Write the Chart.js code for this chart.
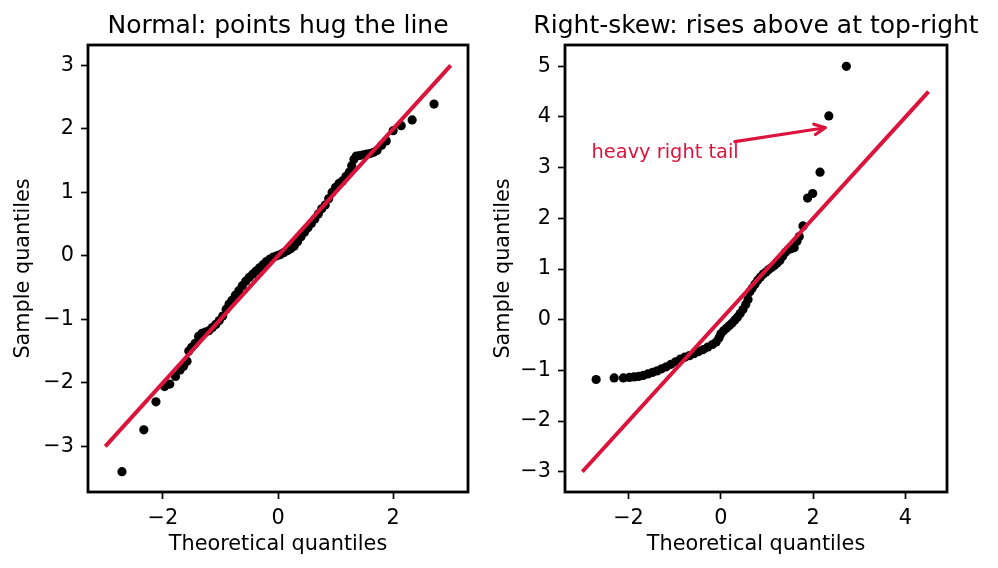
<!DOCTYPE html>
<html>
<head>
<meta charset="utf-8">
<title>Q-Q plots</title>
<script src="https://cdn.jsdelivr.net/npm/chart.js@4.4.1/dist/chart.umd.min.js"></script>
<style>
  html, body { margin: 0; padding: 0; background: #fff; overflow: hidden; }
  #wrap { position: relative; width: 998px; height: 568px; }
  canvas { position: absolute; top: 0; }
  #leftChart { left: 0; }
  #rightChart { left: 480px; }
</style>
</head>
<body>
<div id="wrap">
  <canvas id="leftChart" width="480" height="568"></canvas>
  <canvas id="rightChart" width="518" height="568"></canvas>
</div>
<script>
// ---- data ----
// left panel: normal sample
const normalTheo = [
  -2.71, -2.33, -2.12, -1.97, -1.88, -1.78, -1.70, -1.64, -1.58, -1.55,
  -1.50, -1.44, -1.38, -1.32, -1.26, -1.20, -1.14, -1.08, -1.02, -0.96,
  -0.90, -0.85, -0.80, -0.74, -0.68, -0.62, -0.56, -0.50, -0.44, -0.38,
  -0.32, -0.26, -0.20, -0.14, -0.08, -0.02, 0.04, 0.10, 0.16, 0.22,
  0.28, 0.34, 0.40, 0.46, 0.52, 0.58, 0.64, 0.70, 0.76, 0.82,
  0.88, 0.94, 1.00, 1.06, 1.12, 1.18, 1.24, 1.28, 1.32, 1.36,
  1.42, 1.48, 1.54, 1.60, 1.66, 1.72, 1.80, 1.88, 2.00, 2.14,
  2.33, 2.71
];
const normalSample = [
  -3.40, -2.74, -2.30, -2.06, -2.02, -1.90, -1.80, -1.74, -1.66, -1.50,
  -1.44, -1.38, -1.27, -1.22, -1.20, -1.18, -1.13, -1.08, -1.02, -0.95,
  -0.84, -0.76, -0.70, -0.62, -0.55, -0.47, -0.40, -0.34, -0.29, -0.24,
  -0.19, -0.14, -0.09, -0.05, -0.02, 0.00, 0.02, 0.05, 0.08, 0.11,
  0.15, 0.22, 0.30, 0.37, 0.44, 0.51, 0.58, 0.66, 0.74, 0.80,
  0.90, 1.00, 1.08, 1.14, 1.18, 1.25, 1.32, 1.42, 1.52, 1.57,
  1.58, 1.59, 1.60, 1.61, 1.63, 1.66, 1.74, 1.81, 1.97, 2.05,
  2.14, 2.39
];
const normalLineX = [-3, 3];
const normalLineY = [-3, 3];

// right panel: right-skewed sample
const skewTheo = [
  -2.70, -2.31, -2.11, -1.98, -1.88, -1.78, -1.68, -1.58, -1.48, -1.38,
  -1.28, -1.18, -1.08, -0.98, -0.88, -0.78, -0.68, -0.58, -0.48, -0.38,
  -0.28, -0.18, -0.10, -0.04, 0.00, 0.06, 0.12, 0.18, 0.24, 0.30,
  0.36, 0.42, 0.48, 0.54, 0.59, 0.63, 0.68, 0.74, 0.80, 0.86,
  0.92, 0.98, 1.04, 1.10, 1.16, 1.22, 1.28, 1.34, 1.40, 1.46,
  1.52, 1.59, 1.65, 1.70, 1.78, 1.88, 1.99, 2.15, 2.34, 2.72
];
const skewSample = [
  -1.18, -1.15, -1.15, -1.14, -1.13, -1.12, -1.10, -1.07, -1.04, -1.01,
  -0.97, -0.93, -0.88, -0.83, -0.78, -0.74, -0.71, -0.67, -0.63, -0.59,
  -0.54, -0.49, -0.44, -0.36, -0.28, -0.22, -0.17, -0.12, -0.07, -0.01,
  0.05, 0.12, 0.20, 0.30, 0.40, 0.55, 0.62, 0.70, 0.78, 0.84,
  0.90, 0.94, 0.99, 1.03, 1.07, 1.12, 1.17, 1.25, 1.33, 1.38,
  1.40, 1.42, 1.55, 1.64, 1.85, 2.40, 2.49, 2.91, 4.02, 5.00
];
const skewLineX = [-3, 4.5];
const skewLineY = [-3, 4.5];

// tick labels
const normalXTicks = [-2, 0, 2];
const normalYTicks = [-3, -2, -1, 0, 1, 2, 3];
const skewXTicks = [-2, 0, 2, 4];
const skewYTicks = [-3, -2, -1, 0, 1, 2, 3, 4, 5];

// annotation on the skewed panel
const noteText = 'heavy right tail';
const noteTextAt = [-2.8, 3.2];
const noteArrowAt = [2.35, 3.8];

// ---- styling ----
const CRIMSON = '#DC143C';
Chart.defaults.font.family = "'DejaVu Sans', sans-serif";
Chart.defaults.color = '#000';

const fmtTick = v => (v < 0 ? '\u2212' + Math.abs(v) : String(v));
const toPoints = (xs, ys) => xs.map((x, i) => ({ x: x, y: ys[i] }));

function axisOpts(min, max, tickVals, label, isX, fitSize) {
  return {
    type: 'linear',
    min: min,
    max: max,
    afterBuildTicks: s => { s.ticks = tickVals.map(v => ({ value: v })); },
    afterFit: s => { if (isX) s.height = fitSize; else s.width = fitSize; },
    grid: { drawOnChartArea: false, drawTicks: true, tickLength: 7, tickWidth: 1.7, tickColor: '#000', color: '#000' },
    border: { display: false },
    ticks: { color: '#000', padding: 7, font: { size: 20.8 }, callback: fmtTick, maxRotation: 0, autoSkip: false },
    title: {
      display: true, text: label, color: '#000', font: { size: 20.8 },
      padding: isX ? { top: 0, bottom: 11 } : { top: 11.5, bottom: 0 }
    }
  };
}

// frame round the axes + panel title
function panelDecor(title) {
  return {
    id: 'panelDecor',
    afterDraw(chart) {
      const { ctx, chartArea: a } = chart;
      ctx.save();
      ctx.strokeStyle = '#000';
      ctx.lineWidth = 2.8;
      ctx.strokeRect(a.left, a.top, a.right - a.left, a.bottom - a.top);
      ctx.fillStyle = '#000';
      ctx.font = "25px 'DejaVu Sans'";
      ctx.textAlign = 'center';
      ctx.textBaseline = 'alphabetic';
      ctx.fillText(title, (a.left + a.right) / 2, a.top - 12);
      ctx.restore();
    }
  };
}

// text + arrow pointing at the tail
const tailNote = {
  id: 'tailNote',
  afterDatasetsDraw(chart) {
    const { ctx, scales: { x, y } } = chart;
    const tx = x.getPixelForValue(noteTextAt[0]);
    const ty = y.getPixelForValue(noteTextAt[1]);
    const px = x.getPixelForValue(noteArrowAt[0]);
    const py = y.getPixelForValue(noteArrowAt[1]);
    const fs = 19.4;
    ctx.save();
    ctx.font = fs + "px 'DejaVu Sans'";
    ctx.fillStyle = CRIMSON;
    ctx.textAlign = 'left';
    ctx.textBaseline = 'alphabetic';
    ctx.fillText(noteText, tx, ty);

    // arrow starts where the line from the text centre leaves its box
    const w = ctx.measureText(noteText).width;
    const box = { l: tx, r: tx + w, t: ty - fs * 0.76, b: ty + fs * 0.24 };
    const cx = (box.l + box.r) / 2, cy = (box.t + box.b) / 2;
    let dx = px - cx, dy = py - cy;
    const len = Math.hypot(dx, dy);
    dx /= len; dy /= len;
    const tX = dx !== 0 ? ((dx > 0 ? box.r : box.l) - cx) / dx : Infinity;
    const tY = dy !== 0 ? ((dy > 0 ? box.b : box.t) - cy) / dy : Infinity;
    const t0 = Math.min(tX, tY) + 7;
    const sx = cx + dx * t0, sy = cy + dy * t0;
    const ex = px - dx * 4, ey = py - dy * 4;

    ctx.strokeStyle = CRIMSON;
    ctx.lineWidth = 3.2;
    ctx.lineCap = 'round';
    ctx.lineJoin = 'round';
    ctx.beginPath();
    ctx.moveTo(sx, sy);
    ctx.lineTo(ex, ey);
    const ang = Math.atan2(dy, dx), hl = 12, spread = 0.45;
    ctx.moveTo(ex - hl * Math.cos(ang - spread), ey - hl * Math.sin(ang - spread));
    ctx.lineTo(ex, ey);
    ctx.lineTo(ex - hl * Math.cos(ang + spread), ey - hl * Math.sin(ang + spread));
    ctx.stroke();
    ctx.restore();
  }
};

function makeQQ(canvasId, pts, linePts, xr, yr, xTicks, yTicks, yAxisWidth, padRight, title, extra) {
  return new Chart(document.getElementById(canvasId), {
    type: 'scatter',
    data: {
      datasets: [
        {
          label: 'reference',
          data: linePts,
          showLine: true,
          borderColor: CRIMSON,
          borderWidth: 4,
          pointRadius: 0,
          order: 0
        },
        {
          label: 'sample',
          data: pts,
          pointRadius: 4.6,
          pointBackgroundColor: '#000',
          pointBorderWidth: 0,
          order: 1
        }
      ]
    },
    options: {
      responsive: false,
      animation: false,
      events: [],
      layout: { padding: { top: 45, right: padRight, bottom: 0, left: 0 } },
      plugins: { legend: { display: false }, tooltip: { enabled: false } },
      scales: {
        x: axisOpts(xr[0], xr[1], xTicks, 'Theoretical quantiles', true, 76),
        y: axisOpts(yr[0], yr[1], yTicks, 'Sample quantiles', false, yAxisWidth)
      }
    },
    plugins: [panelDecor(title)].concat(extra || [])
  });
}

document.addEventListener('DOMContentLoaded', () => {
  makeQQ('leftChart',
    toPoints(normalTheo, normalSample), toPoints(normalLineX, normalLineY),
    [-3.3, 3.3], [-3.72, 3.32], normalXTicks, normalYTicks,
    88, 12, 'Normal: points hug the line');

  makeQQ('rightChart',
    toPoints(skewTheo, skewSample), toPoints(skewLineX, skewLineY),
    [-3.375, 4.9], [-3.4, 5.42], skewXTicks, skewYTicks,
    85, 51, 'Right-skew: rises above at top-right', [tailNote]);
});
</script>
</body>
</html>
